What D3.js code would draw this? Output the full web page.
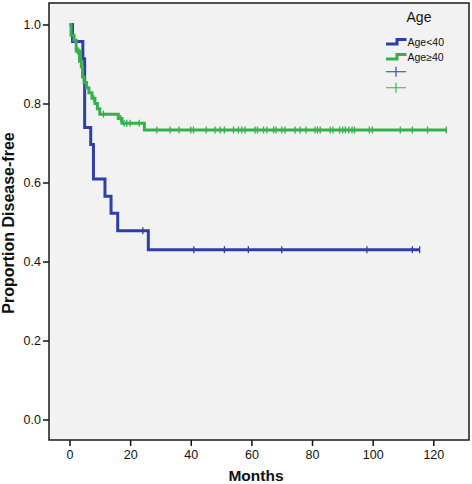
<!DOCTYPE html>
<html><head><meta charset="utf-8">
<script src="https://cdn.jsdelivr.net/npm/d3@7"></script>
<style>
html,body{margin:0;padding:0;background:#fff;}
svg{display:block;}
.narrow{font-family:"Liberation Sans Narrow","Arial Narrow","Liberation Sans",Arial,sans-serif;}
</style></head>
<body>
<svg id="chart" width="472" height="484"></svg>
<script>
// ---- data ----
const groupLabels = ["Age<40", "Age\u226540"];
const groupColors = ["#2e3fa6", "#36b04a"];
const blueTimes = [0, 1.0, 4.4, 5.0, 7.0, 7.9, 11.7, 13.7, 15.9, 26.0];
const blueSurv  = [1, 0.957, 0.913, 0.739, 0.696, 0.609, 0.565, 0.522, 0.478, 0.430];
const blueCensor = [24.2, 41.0, 51.1, 59.0, 70.0, 98.1, 113.1, 115.5];
const greenTimes = [0, 0.5, 1.5, 2.2, 3.3, 3.9, 4.3, 4.8, 5.6, 6.4, 7.4, 8.4, 9.2, 10.0, 16.1, 17.3, 24.7];
const greenSurv  = [1, 0.973, 0.96, 0.933, 0.907, 0.893, 0.867, 0.853, 0.84, 0.827, 0.813, 0.80, 0.787, 0.773, 0.762, 0.75, 0.733];
const greenCensor = [2.6, 3.1, 8.0, 11.2, 16.9, 18.0, 18.9, 20.0, 23.0, 28.8, 33.2, 36.1,
  40.0, 40.9, 45.1, 48.0, 49.7, 51.1, 54.1, 55.7, 56.8, 57.9, 61.2, 62.0, 64.0, 65.1, 67.3, 68.1,
  70.0, 71.1, 74.4, 76.1, 78.0, 81.0, 81.8, 82.7, 86.0, 86.9, 89.1, 90.1, 91.0, 92.1, 93.2, 94.0,
  98.9, 99.9, 109.1, 113.1, 118.1, 124.3];
const xTicks = [0, 20, 40, 60, 80, 100, 120];
const yTicks = [0.0, 0.2, 0.4, 0.6, 0.8, 1.0];
const xTitle = "Months";
const yTitle = "Proportion Disease-free";
const legendTitle = "Age";

// ---- layout ----
const svg = d3.select("#chart");
const frame = {left: 49, right: 469, top: 3, bottom: 440};
const x = d3.scaleLinear().domain([0, 120]).range([69.5, 433.3]);
const y = d3.scaleLinear().domain([0, 1]).range([419.5, 24.5]);

svg.append("rect").attr("x", frame.left).attr("y", frame.top)
  .attr("width", frame.right - frame.left).attr("height", frame.bottom - frame.top)
  .attr("fill", "#f2f2f2").attr("stroke", "none");

// axes
const xAxis = svg.append("g").attr("transform", `translate(0,${frame.bottom})`)
  .call(d3.axisBottom(x).tickValues(xTicks).tickFormat(d3.format("d")).tickSize(6).tickPadding(4.5));
const yAxis = svg.append("g").attr("transform", `translate(${frame.left},0)`)
  .call(d3.axisLeft(y).tickValues(yTicks).tickFormat(d3.format(".1f")).tickSize(6).tickPadding(2));
[xAxis, yAxis].forEach(g => {
  g.select(".domain").remove();
  g.selectAll(".tick line").attr("stroke", "#111").attr("stroke-width", 1.5);
  g.selectAll(".tick text").attr("class", "narrow").attr("font-size", 12.5).attr("fill", "#111");
});

// frame border
svg.append("rect").attr("x", frame.left).attr("y", frame.top)
  .attr("width", frame.right - frame.left).attr("height", frame.bottom - frame.top)
  .attr("fill", "none").attr("stroke", "#1a1a1a").attr("stroke-width", 1.5);

// titles
svg.append("text").attr("x", 256).attr("y", 481).attr("text-anchor", "middle")
  .attr("font-family", "Liberation Sans, Arial, sans-serif").attr("font-weight", "bold")
  .attr("font-size", 15.5).attr("fill", "#111").text(xTitle);
svg.append("text").attr("transform", "translate(14,223) rotate(-90)").attr("text-anchor", "middle")
  .attr("font-family", "Liberation Sans, Arial, sans-serif").attr("font-weight", "bold")
  .attr("font-size", 16).attr("fill", "#111").text(yTitle);

// survival curves
function stepAt(times, surv, t) {
  let v = surv[0];
  for (let i = 0; i < times.length; i++) if (times[i] <= t) v = surv[i];
  return v;
}
const groups = [
  {times: blueTimes, surv: blueSurv, censor: blueCensor, color: groupColors[0]},
  {times: greenTimes, surv: greenSurv, censor: greenCensor, color: groupColors[1]}
];
const line = d3.line().curve(d3.curveStepAfter).x(d => x(d[0])).y(d => y(d[1]));
groups.forEach(g => {
  const endT = d3.max(g.censor);
  const pts = g.times.map((t, i) => [t, g.surv[i]]);
  pts.push([endT, g.surv[g.surv.length - 1]]);
  svg.append("path").datum(pts).attr("d", line).attr("fill", "none")
    .attr("stroke", g.color).attr("stroke-width", 3).attr("stroke-linejoin", "miter");
  svg.append("g").selectAll("line").data(g.censor).join("line")
    .attr("x1", d => x(d)).attr("x2", d => x(d))
    .attr("y1", d => y(stepAt(g.times, g.surv, d)) - 3.5)
    .attr("y2", d => y(stepAt(g.times, g.surv, d)) + 3.5)
    .attr("stroke", g.color).attr("stroke-width", 1.3);
});

// legend
svg.append("text").attr("x", 419).attr("y", 21.5).attr("text-anchor", "middle")
  .attr("class", "narrow").attr("font-size", 14).attr("fill", "#111").text(legendTitle);
const legY = [42, 57];
groupLabels.forEach((lab, i) => {
  const cy = legY[i];
  svg.append("path").attr("d", `M386,${cy + 2}H397V${cy - 2.5}H406.5`)
    .attr("fill", "none").attr("stroke", groupColors[i]).attr("stroke-width", 3);
  svg.append("text").attr("x", 407.5).attr("y", cy + 3.8).attr("class", "narrow")
    .attr("font-size", 10.5).attr("fill", "#111").text(lab);
});
const crossY = [71.7, 87.7];
groupColors.forEach((c, i) => {
  const cy = crossY[i];
  svg.append("path").attr("d", `M386,${cy}H406M396,${cy - 5}V${cy + 5}`)
    .attr("fill", "none").attr("stroke", c).attr("stroke-width", 1.1);
});
</script>
</body></html>
